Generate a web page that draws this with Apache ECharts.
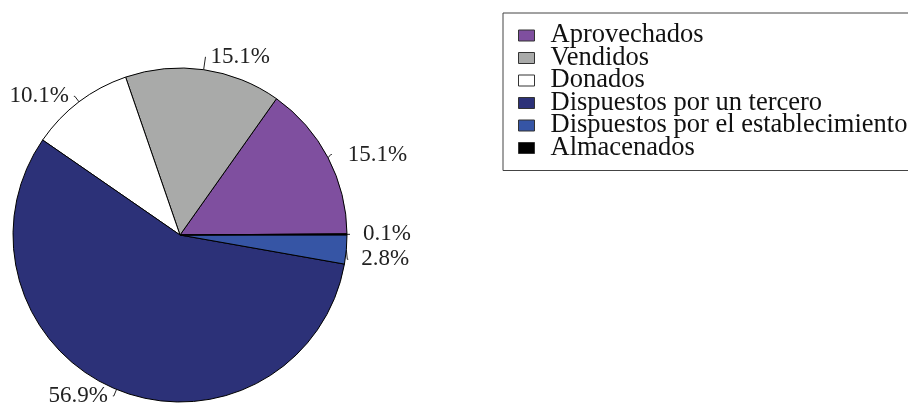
<!DOCTYPE html>
<html>
<head>
<meta charset="utf-8">
<script src="https://cdn.jsdelivr.net/npm/echarts@6/dist/echarts.min.js"></script>
<style>
  html, body { margin: 0; padding: 0; background: #fff; }
  #chart { width: 908px; height: 417px; }
</style>
</head>
<body>
<div id="chart"></div>
<script>
// Destino de los residuos (%)
const categories = [
  "Aprovechados",
  "Vendidos",
  "Donados",
  "Dispuestos por un tercero",
  "Dispuestos por el establecimiento",
  "Almacenados",
]
const values = [15.1, 15.1, 10.1, 56.9, 2.8, 0.1]
const colors = ["#7f4f9f", "#a9aaa9", "#ffffff", "#2c3178", "#3655a5", "#000000"]

const serif = "'Liberation Serif', 'DejaVu Serif', serif"

const chart = echarts.init(document.getElementById("chart"))

// small per-slice tweaks so labels sit where the original puts them
const labelTweaks = {
  0: { label: { padding: [0, 0, 0, 11] } },
  1: { label: { padding: 0 }, labelLine: { length: 13, length2: 0 } },
}

const option = {
  animation: false,
  color: colors,
  legend: {
    orient: "vertical",
    left: 503,
    top: 13,
    padding: [9, 40, 9, 15],
    itemGap: -4.5,
    itemWidth: 16,
    itemHeight: 11,
    icon: "rect",
    borderColor: "#444",
    borderWidth: 1,
    itemStyle: { borderColor: "#333", borderWidth: 1 },
    textStyle: {
      fontFamily: serif,
      fontSize: 26.5,
      lineHeight: 22.5,
      color: "#111",
      padding: [0, 0, 0, 11],
    },
    data: categories,
  },
  series: [
    {
      type: "pie",
      center: [180, 235],
      radius: 167,
      startAngle: 0.4,
      clockwise: false,
      avoidLabelOverlap: true,
      itemStyle: { borderColor: "#000", borderWidth: 1 },
      label: {
        show: true,
        position: "outside",
        overflow: "none",
        formatter: (p) => p.value.toFixed(1) + "%",
        fontFamily: serif,
        fontSize: 23,
        color: "#222",
        padding: [0, 0, 0, 8],
      },
      labelLine: {
        show: true,
        length: 7,
        length2: 1,
        lineStyle: { color: "#222", width: 1 },
      },
      emphasis: { disabled: true },
      data: categories.map((name, i) => ({ name, value: values[i], ...(labelTweaks[i] || {}) })),
    },
  ],
}

chart.setOption(option)
</script>
</body>
</html>
